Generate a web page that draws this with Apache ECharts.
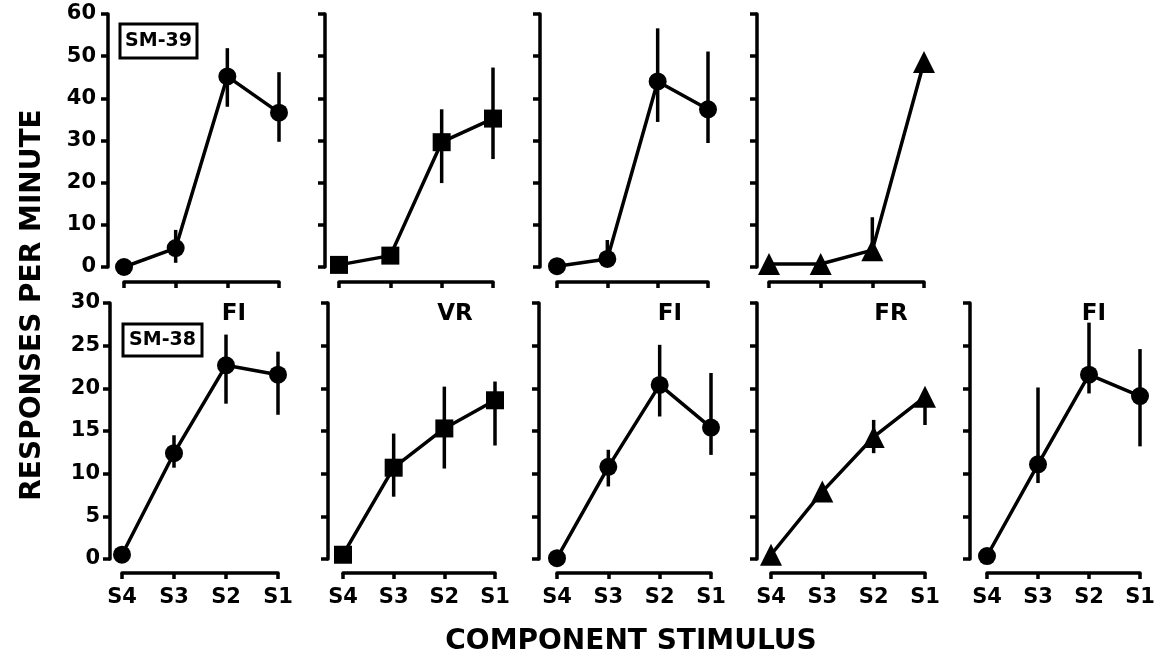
<!DOCTYPE html>
<html>
<head>
<meta charset="utf-8">
<script src="https://cdn.jsdelivr.net/npm/echarts@6/dist/echarts.min.js"></script>
<style>
  html, body { margin: 0; background: #fff; }
  #chart { width: 1162px; height: 658px; }
</style>
</head>
<body>
<div id="chart"></div>
<script>
  // stimulus categories, left to right
  var stimuli = ['S4', 'S3', 'S2', 'S1'];

  // SM-39 (top row), responses per minute
  var sm39FiMean = [0, 4.5, 45.2, 36.6];
  var sm39FiLow = [null, 1, 38, 29.7];
  var sm39FiHigh = [null, 8.8, 51.9, 46.2];

  var sm39VrMean = [0.5, 2.7, 29.6, 35.2];
  var sm39VrLow = [null, null, 19.9, 25.6];
  var sm39VrHigh = [null, null, 37.4, 47.3];

  var sm39Fi2Mean = [0.2, 1.9, 44, 37.4];
  var sm39Fi2Low = [null, 1.5, 34.4, 29.4];
  var sm39Fi2High = [null, 6.4, 56.6, 51.1];

  var sm39FrMean = [0.7, 0.7, 4, 48.6];
  var sm39FrLow = [null, null, 3, null];
  var sm39FrHigh = [null, null, 11.8, null];

  // SM-38 (bottom row)
  var sm38FiMean = [0.5, 12.4, 22.7, 21.6];
  var sm38FiLow = [null, 10.7, 18.2, 16.9];
  var sm38FiHigh = [null, 14.5, 26.3, 24.3];

  var sm38VrMean = [0.5, 10.7, 15.3, 18.6];
  var sm38VrLow = [null, 7.3, 10.6, 13.3];
  var sm38VrHigh = [null, 14.7, 20.2, 20.8];

  var sm38Fi2Mean = [0.1, 10.8, 20.4, 15.4];
  var sm38Fi2Low = [null, 8.5, 16.7, 12.2];
  var sm38Fi2High = [null, 12.8, 25.1, 21.8];

  var sm38FrMean = [0.5, 7.9, 14.3, 19.0];
  var sm38FrLow = [null, 6.8, 12.4, 15.7];
  var sm38FrHigh = [null, 8.5, 16.3, 19.5];

  var sm38Fi3Mean = [0.35, 11.1, 21.6, 19.1];
  var sm38Fi3Low = [null, 8.9, 19.4, 13.2];
  var sm38Fi3High = [null, 20.1, 27.7, 24.6];

  // axis ranges
  var topMax = 60, topInterval = 10;
  var bottomMax = 30, bottomInterval = 5;

  var rows = [
    {top: 14, height: 253, max: topMax, interval: topInterval, xOffset: 15, labelMargin: 12, showX: false},
    {top: 303, height: 256, max: bottomMax, interval: bottomInterval, xOffset: 14, labelMargin: 10, showX: true}
  ];

  var panels = [
    {row: 0, left: 124, width: 155, yOffset: 16, symbol: 'circle', mean: sm39FiMean, low: sm39FiLow, high: sm39FiHigh, yLabels: true},
    {row: 0, left: 339, width: 154, yOffset: 14, symbol: 'rect', mean: sm39VrMean, low: sm39VrLow, high: sm39VrHigh},
    {row: 0, left: 557, width: 151, yOffset: 17, symbol: 'circle', mean: sm39Fi2Mean, low: sm39Fi2Low, high: sm39Fi2High},
    {row: 0, left: 769, width: 155, yOffset: 12, symbol: 'triangle', mean: sm39FrMean, low: sm39FrLow, high: sm39FrHigh},
    {row: 1, left: 122, width: 156, yOffset: 12, symbol: 'circle', mean: sm38FiMean, low: sm38FiLow, high: sm38FiHigh, yLabels: true},
    {row: 1, left: 343, width: 152, yOffset: 15, symbol: 'rect', mean: sm38VrMean, low: sm38VrLow, high: sm38VrHigh},
    {row: 1, left: 557, width: 154, yOffset: 18, symbol: 'circle', mean: sm38Fi2Mean, low: sm38Fi2Low, high: sm38Fi2High},
    {row: 1, left: 771, width: 154, yOffset: 14, symbol: 'triangle', mean: sm38FrMean, low: sm38FrLow, high: sm38FrHigh},
    {row: 1, left: 987, width: 153, yOffset: 17, symbol: 'circle', mean: sm38Fi3Mean, low: sm38Fi3Low, high: sm38Fi3High}
  ];

  var font = '"DejaVu Sans", sans-serif';

  function errorBar(params, api) {
    var p1 = api.coord([api.value(0), api.value(1)]);
    var p2 = api.coord([api.value(0), api.value(2)]);
    return {
      type: 'line',
      shape: {x1: p1[0], y1: p1[1], x2: p2[0], y2: p2[1]},
      style: {stroke: '#000', lineWidth: 3.5}
    };
  }

  var grids = [], xAxes = [], yAxes = [], series = [];
  panels.forEach(function (p, i) {
    var r = rows[p.row];
    grids.push({left: p.left, width: p.width, top: r.top, height: r.height});
    xAxes.push({
      type: 'category',
      gridIndex: i,
      data: stimuli,
      boundaryGap: false,
      offset: r.xOffset,
      axisLine: {onZero: false, lineStyle: {color: '#000', width: 3.5}},
      axisTick: {show: true, length: 6, interval: 0, lineStyle: {color: '#000', width: 3.5}},
      axisLabel: {
        show: r.showX, interval: 0, margin: 14, color: '#000',
        fontSize: 21, fontWeight: 'bold', fontFamily: font
      }
    });
    yAxes.push({
      type: 'value',
      gridIndex: i,
      min: 0,
      max: r.max,
      interval: r.interval,
      offset: p.yOffset,
      splitLine: {show: false},
      axisLine: {show: true, onZero: false, lineStyle: {color: '#000', width: 3.5}},
      axisTick: {show: true, length: 7, lineStyle: {color: '#000', width: 3.5}},
      axisLabel: {
        show: !!p.yLabels, margin: r.labelMargin, color: '#000',
        fontSize: 21, fontWeight: 'bold', fontFamily: font
      }
    });
    series.push({
      type: 'line',
      xAxisIndex: i,
      yAxisIndex: i,
      data: p.mean,
      symbol: p.symbol,
      symbolSize: p.symbol === 'triangle' ? 22 : 18,
      clip: false,
      lineStyle: {color: '#000', width: 3.5},
      itemStyle: {color: '#000'},
      z: 3
    });
    var bars = [];
    p.mean.forEach(function (m, k) {
      if (p.low[k] != null && p.high[k] != null) bars.push([k, p.low[k], p.high[k]]);
    });
    series.push({
      type: 'custom',
      xAxisIndex: i,
      yAxisIndex: i,
      renderItem: errorBar,
      encode: {x: 0, y: [1, 2]},
      data: bars,
      clip: false,
      z: 2
    });
  });

  var titleStyle = {fill: '#000', font: 'bold 23px ' + font, textAlign: 'center', textVerticalAlign: 'middle'};
  function label(text, x, y) {
    return {type: 'text', x: x, y: y, style: Object.assign({text: text}, titleStyle)};
  }

  var myChart = echarts.init(document.getElementById('chart'));
  var option = {
    backgroundColor: '#fff',
    animation: false,
    grid: grids,
    xAxis: xAxes,
    yAxis: yAxes,
    series: series,
    graphic: [
      // schedule labels on the bottom row
      label('FI', 234, 314),
      label('VR', 455, 314),
      label('FI', 670, 314),
      label('FR', 891, 314),
      label('FI', 1094, 314),
      // subject boxes
      {type: 'rect', shape: {x: 120, y: 24, width: 77, height: 34},
        style: {fill: 'none', stroke: '#000', lineWidth: 3}},
      {type: 'text', x: 158.5, y: 41,
        style: {text: 'SM-39', fill: '#000', font: 'bold 19px ' + font, textAlign: 'center', textVerticalAlign: 'middle'}},
      {type: 'rect', shape: {x: 123, y: 324, width: 79, height: 32},
        style: {fill: 'none', stroke: '#000', lineWidth: 3}},
      {type: 'text', x: 162.5, y: 340,
        style: {text: 'SM-38', fill: '#000', font: 'bold 19px ' + font, textAlign: 'center', textVerticalAlign: 'middle'}},
      // axis titles
      {type: 'text', x: 33, y: 305, rotation: Math.PI / 2,
        style: {text: 'RESPONSES PER MINUTE', fill: '#000', font: 'bold 28px ' + font, textAlign: 'center', textVerticalAlign: 'middle'}},
      {type: 'text', x: 631, y: 642,
        style: {text: 'COMPONENT STIMULUS', fill: '#000', font: 'bold 28px ' + font, textAlign: 'center', textVerticalAlign: 'middle'}}
    ]
  };
  myChart.setOption(option);
</script>
</body>
</html>
